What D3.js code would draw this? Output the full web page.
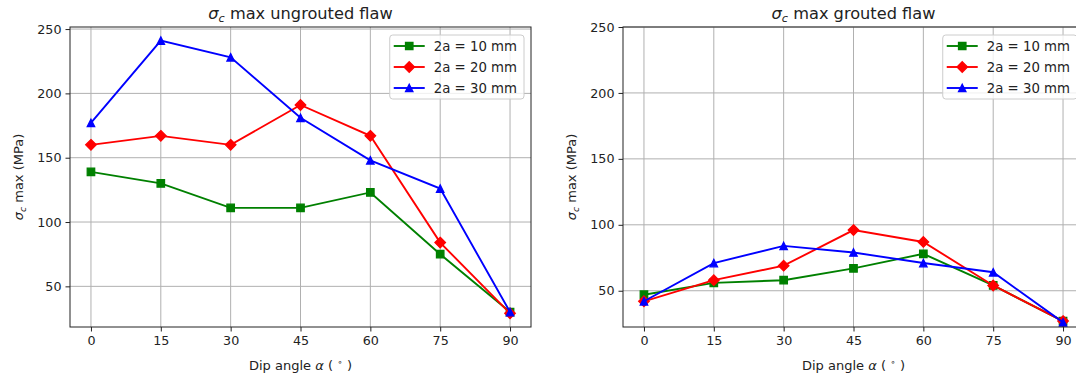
<!DOCTYPE html>
<html>
<head>
<meta charset="utf-8">
<script src="https://cdn.jsdelivr.net/npm/d3@7"></script>
<style>
  body { margin: 0; background: #fff; }
  text { font-family: "DejaVu Sans", sans-serif; fill: #222; }
</style>
</head>
<body>
<svg id="chart"></svg>
<script>
var width = 1076;
var height = 383;

// dip angles (x axis)
var angles = [0, 15, 30, 45, 60, 75, 90];
var xTicks = [0, 15, 30, 45, 60, 75, 90];
var yTicks = [50, 100, 150, 200, 250];
var seriesNames = ['2a = 10 mm', '2a = 20 mm', '2a = 30 mm'];
var seriesColors = ['#008000', '#ff0000', '#0000ff'];

// sigma_c max, ungrouted flaw (MPa)
var ungrouted10 = [139, 130, 111, 111, 123, 75, 30];
var ungrouted20 = [160, 167, 160, 191, 167, 84, 29];
var ungrouted30 = [177, 241, 228, 181, 148, 126, 30];

// sigma_c max, grouted flaw (MPa)
var grouted10 = [47, 56, 58, 67, 78, 54, 27];
var grouted20 = [42, 58, 69, 96, 87, 54, 27];
var grouted30 = [42, 71, 84, 79, 71, 64, 26];

var panels = [
  { title: ' max ungrouted flaw', left: 70, series: [ungrouted10, ungrouted20, ungrouted30], yMax: null },
  { title: ' max grouted flaw', left: 623, series: [grouted10, grouted20, grouted30], yMax: 250 }
];

var axTop = 27, axH = 300, axW = 461;

// marker shapes, roughly like matplotlib 's', 'D', '^'
var symSquare = { draw: function(ctx, size) { var r = Math.sqrt(size) / 2; ctx.rect(-r, -r, 2 * r, 2 * r); } };
var symDiamond = { draw: function(ctx, size) { var r = Math.sqrt(size / 2); ctx.moveTo(0, -r); ctx.lineTo(r, 0); ctx.lineTo(0, r); ctx.lineTo(-r, 0); ctx.closePath(); } };
var symTriangle = { draw: function(ctx, size) { var h = Math.sqrt(size / 2); ctx.moveTo(0, -h); ctx.lineTo(h, h); ctx.lineTo(-h, h); ctx.closePath(); } };
var markers = [d3.symbol(symSquare, 56), d3.symbol(symDiamond, 56), d3.symbol(symTriangle, 28)];

var svg = d3.select('#chart')
            .attr('width', width)
            .attr('height', height);

panels.forEach(function(p) {
  var all = [].concat.apply([], p.series);
  var lo = d3.min(all), hi = d3.max(all), m = (hi - lo) * 0.05;
  var yDomain = [lo - m, p.yMax === null ? hi + m : p.yMax];

  var x = d3.scaleLinear().domain([-4.5, 94.5]).range([0, axW]);
  var y = d3.scaleLinear().domain(yDomain).range([axH, 0]);

  var g = svg.append('g').attr('transform', `translate(${p.left}, ${axTop})`);

  // grid
  g.append('g').selectAll('line').data(xTicks).enter().append('line')
      .attr('x1', d => x(d)).attr('x2', d => x(d))
      .attr('y1', 0).attr('y2', axH)
      .attr('stroke', '#b0b0b0').attr('stroke-width', 1);
  g.append('g').selectAll('line').data(yTicks).enter().append('line')
      .attr('y1', d => y(d)).attr('y2', d => y(d))
      .attr('x1', 0).attr('x2', axW)
      .attr('stroke', '#b0b0b0').attr('stroke-width', 1);

  // axes
  var xAxis = g.append('g')
      .attr('transform', `translate(0, ${axH})`)
      .call(d3.axisBottom(x).tickValues(xTicks).tickSize(4.5).tickPadding(4));
  var yAxis = g.append('g')
      .call(d3.axisLeft(y).tickValues(yTicks).tickSize(4.5).tickPadding(4));
  [xAxis, yAxis].forEach(function(a) {
    a.select('.domain').remove();
    a.selectAll('line').attr('stroke', '#222').attr('stroke-width', 1);
    a.selectAll('text').style('font-family', '"DejaVu Sans", sans-serif').style('font-size', '12.7px').attr('fill', '#222');
  });

  // lines and markers
  var line = d3.line().x((d, i) => x(angles[i])).y(d => y(d));
  var plot = g.append('g');
  p.series.forEach(function(s, k) {
    plot.append('path')
        .datum(s)
        .attr('d', line)
        .attr('fill', 'none')
        .attr('stroke', seriesColors[k])
        .attr('stroke-width', 1.9);
    plot.selectAll('.m' + k).data(s).enter().append('path')
        .attr('class', 'm' + k)
        .attr('transform', (d, i) => `translate(${x(angles[i])}, ${y(d)})`)
        .attr('d', markers[k])
        .attr('fill', seriesColors[k])
        .attr('stroke', seriesColors[k])
        .attr('stroke-width', 1.25);
  });

  // frame
  g.append('rect')
      .attr('width', axW).attr('height', axH)
      .attr('fill', 'none').attr('stroke', '#222').attr('stroke-width', 1);

  // title
  var t = g.append('text')
      .attr('x', axW / 2).attr('y', -8)
      .attr('text-anchor', 'middle')
      .style('font-size', '16.2px');
  t.append('tspan').style('font-style', 'italic').text('σ');
  t.append('tspan').style('font-style', 'italic').style('font-size', '11.3px').attr('dy', 3).text('c');
  t.append('tspan').attr('dy', -3).text(p.title);

  // x label
  var xl = g.append('text')
      .attr('x', axW / 2).attr('y', axH + 43)
      .attr('text-anchor', 'middle')
      .style('font-size', '13px');
  xl.append('tspan').text('Dip angle ');
  xl.append('tspan').style('font-style', 'italic').text('α');
  xl.append('tspan').text(' ( ');
  xl.append('tspan').style('font-size', '9px').attr('dy', -5).text('∘');
  xl.append('tspan').attr('dy', 5).text(' )');

  // y label
  var yl = g.append('text')
      .attr('transform', `translate(-47, ${axH / 2}) rotate(-90)`)
      .attr('text-anchor', 'middle')
      .style('font-size', '13px');
  yl.append('tspan').style('font-style', 'italic').text('σ');
  yl.append('tspan').style('font-style', 'italic').style('font-size', '9.3px').attr('dy', 3).text('c');
  yl.append('tspan').attr('dy', -3).text(' max (MPa)');

  // legend
  var lg = g.append('g');
  var box = lg.append('rect')
      .attr('rx', 3).attr('ry', 3)
      .attr('fill', 'white').attr('fill-opacity', 0.8)
      .attr('stroke', '#cccccc').attr('stroke-width', 1);
  var rows = lg.selectAll('.row').data(seriesNames).enter().append('g')
      .attr('class', 'row')
      .attr('transform', (d, i) => `translate(0, ${i * 21})`);
  rows.append('line')
      .attr('x1', 4).attr('x2', 35).attr('y1', 0).attr('y2', 0)
      .attr('stroke', (d, i) => seriesColors[i]).attr('stroke-width', 1.9);
  rows.append('path')
      .attr('transform', 'translate(19.5, 0)')
      .attr('d', (d, i) => markers[i]())
      .attr('fill', (d, i) => seriesColors[i])
      .attr('stroke', (d, i) => seriesColors[i]).attr('stroke-width', 1.25);
  rows.append('text')
      .attr('x', 44).attr('y', 0).attr('dy', '0.35em')
      .style('font-size', '13.3px')
      .text(d => d);
  var tw = d3.max(rows.selectAll('text').nodes(), n => n.getComputedTextLength());
  var lw = 44 + tw + 7;
  box.attr('x', 0).attr('y', -11).attr('width', lw).attr('height', 64);
  lg.attr('transform', `translate(${axW - 7 - lw}, ${8 + 11})`);
});
</script>
</body>
</html>
